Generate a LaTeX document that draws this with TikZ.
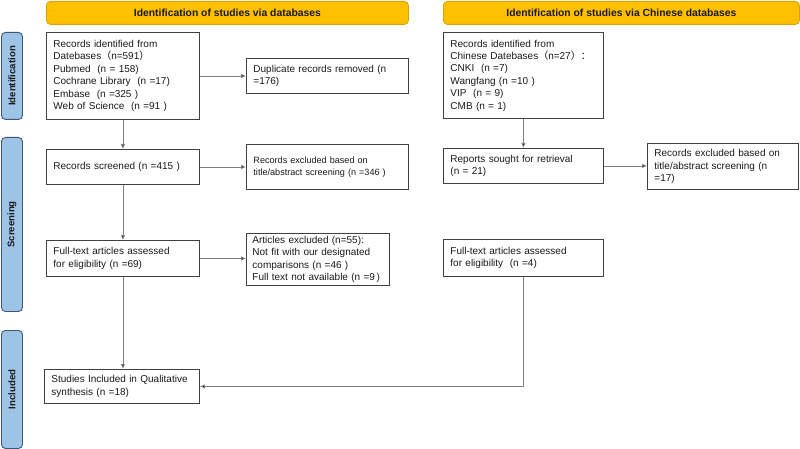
\documentclass[tikz,border=0pt]{standalone}
\usepackage{fontspec}
\setmainfont{Liberation Sans}
\newfontfamily\cjk{Noto Sans CJK SC}
\usetikzlibrary{arrows.meta}
\definecolor{hdrfill}{HTML}{FFC000}
\definecolor{hdrdraw}{HTML}{D8A200}
\definecolor{barfill}{HTML}{9DC3E6}
\definecolor{bardraw}{HTML}{3E5670}
\definecolor{boxdraw}{HTML}{404040}
\definecolor{linecol}{HTML}{808080}
\definecolor{txt}{HTML}{1A1A1A}
\newcommand{\fw}[1]{{\cjk #1}}
\begin{document}
\begin{tikzpicture}[x=1pt,y=-1pt,
  box/.style={draw=boxdraw, line width=0.9pt, fill=white, anchor=north west, align=left,
    inner xsep=7pt, inner ysep=0pt, text=txt,
    font=\fontsize{10}{12.4}\selectfont},
  smallbox/.style={box, font=\fontsize{9.1}{11.5}\selectfont},
  hdr/.style={draw=hdrdraw, line width=0.8pt, fill=hdrfill, rounded corners=4pt, anchor=north west,
    inner sep=0pt, font=\fontsize{10.35}{12}\selectfont\bfseries, text=txt},
  bar/.style={draw=bardraw, line width=0.9pt, fill=barfill, rounded corners=4pt, anchor=north west,
    inner sep=0pt},
  bartext/.style={rotate=90, font=\fontsize{9.6}{12}\selectfont\bfseries, text=txt},
  arr/.style={draw=linecol, line width=0.8pt, -{Latex[length=5pt,width=4.5pt,fill=black]}}
]
\useasboundingbox (0,0) rectangle (800,449);

% headers
\node[hdr, minimum width=362pt, minimum height=23pt] (h1) at (46,1) {Identification of studies via databases};
\node[hdr, minimum width=356pt, minimum height=23pt] (h2) at (443,1) {Identification of studies via Chinese databases};

% side bars
\node[bar, minimum width=21pt, minimum height=87pt] (b1) at (1,32) {};
\node[bartext] at (b1.center) {Identification};
\node[bar, minimum width=21pt, minimum height=174pt] (b2) at (1,137) {};
\node[bartext] at (b2.center) {Screening};
\node[bar, minimum width=21pt, minimum height=118pt] (b3) at (1,330) {};
\node[bartext] at (b3.center) {Included};

% left column
\node[box, text width=139pt, minimum height=87pt] (A) at (46,32)
  {Records identified from\\Datebases\fw{（}n=591\fw{）}\\Pubmed\ \ (n = 158)\\Cochrane Library\ \ (n =17)\\Embase\ \ (n =325 )\\Web of Science\ \ (n =91 )};
\node[box, text width=148pt, minimum height=35pt] (dup) at (246,58)
  {Duplicate records removed (n\\=176)};
\node[box, text width=139pt, minimum height=35pt] (scr) at (46,149)
  {Records screened (n =415 )};
\node[smallbox, text width=148pt, minimum height=45pt] (ex1) at (246,144)
  {Records excluded based on\\title/abstract screening (n =346 )};
\node[box, text width=139pt, minimum height=36pt] (ft1) at (46,240)
  {Full-text articles assessed\\for eligibility (n =69)};
\node[box, inner xsep=6pt, text width=131pt, minimum height=52pt] (ex2) at (246,233)
  {Articles excluded (n=55):\\Not fit with our designated\\comparisons (n =46 )\\Full text not available (n =9\,)};
\node[box, text width=141pt, minimum height=34pt] (inc) at (44,369)
  {Studies Included in Qualitative\\synthesis (n =18)};

% right column
\node[box, text width=146pt, minimum height=86pt] (B) at (443,32)
  {Records identified from\\Chinese Datebases\fw{（}n=27\fw{）：}\\CNKI\ \ (n =7)\\Wangfang (n =10 )\\VIP\ \ (n = 9)\\CMB (n = 1)};
\node[box, text width=146pt, minimum height=35pt] (rs) at (443,148)
  {Reports sought for retrieval\\(n = 21)};
\node[box, text width=137pt, minimum height=46pt] (ex3) at (647,143)
  {Records excluded based on\\title/abstract screening (n\\=17)};
\node[box, text width=146pt, minimum height=37pt] (ft2) at (443,239)
  {Full-text articles assessed\\for eligibility\ \ (n =4)};

\coordinate (corner) at (ft2.south |- inc.east);

% connectors
\draw[arr] (A.south) -- (scr.north);
\draw[arr] (A.east) -- (A.east -| dup.west);
\draw[arr] (scr.south) -- (ft1.north);
\draw[arr] (scr.east) -- (scr.east -| ex1.west);
\draw[arr] (ft1.east) -- (ft1.east -| ex2.west);
\draw[arr] (ft1.south) -- (ft1.south |- inc.north);
\draw[arr] (B.south) -- (rs.north);
\draw[arr] (rs.east) -- (rs.east -| ex3.west);
\draw[arr] (ft2.south) -- (corner) -- (inc.east);
\end{tikzpicture}
\end{document}
